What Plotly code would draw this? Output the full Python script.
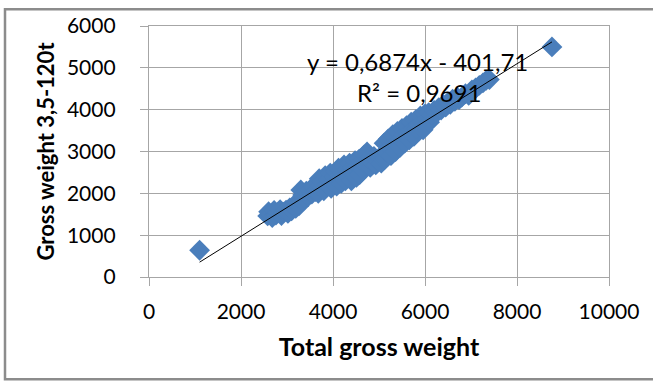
import plotly.graph_objects as go

# Total gross weight vs. gross weight of vehicles 3,5-120t
total_gross = [
    1100,
    2580, 2600, 2650, 2680, 2720, 2760, 2800, 2850, 2880, 2930, 2980,
    3020, 3060, 3100, 3150, 3190, 3230, 3260,
    3300, 3320, 3340, 3380, 3420, 3460, 3500, 3540, 3580, 3620,
    3680, 3700, 3720, 3760, 3800, 3830, 3860, 3900, 3940, 3960, 4000, 4030, 4060, 4080,
    4120, 4150, 4180, 4200, 4240, 4270, 4300, 4330, 4360, 4400, 4420, 4450, 4480, 4510, 4540, 4570, 4580,
    4620, 4650, 4680, 4720, 4740, 4780, 4810, 4850, 4890, 4930,
    4970, 5010, 5050, 5080,
    5110, 5130, 5170, 5200, 5230, 5260, 5300, 5330, 5360, 5400, 5430, 5460, 5500, 5530, 5560,
    5600, 5630, 5660, 5700, 5730, 5760, 5800, 5820,
    5860, 5900, 5940, 5960, 6000, 6040, 6080, 6100,
    6150, 6200, 6250, 6300, 6350, 6400, 6450, 6500, 6550, 6600, 6650, 6700, 6740,
    6800, 6880, 6950, 7020, 7100, 7180, 7260, 7330, 7400,
    8760,
]
gross_3_5_120t = [
    640,
    1460, 1560, 1500, 1420, 1590, 1480, 1540, 1610, 1470, 1550, 1600,
    1520, 1650, 1580, 1720, 1640, 1780, 1700,
    2080, 1830, 1960, 1880, 2050, 1920, 2090, 1980, 2150, 2040,
    2000, 2350, 2180, 2280, 2060, 2420, 2200, 2330, 2480, 2120, 2260, 2400, 2520, 2170,
    2600, 2350, 2240, 2480, 2680, 2300, 2560, 2420, 2720, 2300, 2620, 2480, 2780, 2380, 2660, 2820, 2450,
    2600, 2800, 2920, 2680, 2990, 2850, 2620, 2750, 2880, 2680,
    2780, 2860, 2720, 2820,
    3200, 2820, 2980, 3300, 3100, 2900, 3400, 3150, 3000, 3480, 3260, 3100, 3550, 3380, 3200,
    3620, 3450, 3280, 3700, 3520, 3360, 3760, 3550,
    3650, 3850, 3720, 3520, 3900, 3780, 3930, 3700,
    3880, 3980, 3920, 4050, 3990, 4120, 4060, 4180, 4130, 4250, 4200, 4300, 4240,
    4300, 4380, 4340, 4470, 4520, 4580, 4640, 4700, 4720,
    5500,
]

# Linear trendline as stated in its label
slope = 0.6874
intercept = -401.71
eq_text = "y = 0,6874x - 401,71"
r2_text = "R² = 0,9691"

x_ticks = [0, 2000, 4000, 6000, 8000, 10000]
y_ticks = [0, 1000, 2000, 3000, 4000, 5000, 6000]

W, H = 653, 383
L, R, T, B = 149, 44, 22, 106
PW, PH = W - L - R, H - T - B

FONT = "Lato"
GRID = "#a6a6a6"
BLUE = "#4a7ebb"

x_line = [min(total_gross), max(total_gross)]
y_line = [slope * v + intercept for v in x_line]

fig = go.Figure()
fig.add_trace(go.Scatter(
    x=total_gross, y=gross_3_5_120t, mode="markers",
    marker=dict(symbol="diamond", size=16, color=BLUE, line=dict(width=0)),
    showlegend=False, hoverinfo="x+y",
))
fig.add_trace(go.Scatter(
    x=x_line, y=y_line, mode="lines",
    line=dict(color="#000000", width=1),
    showlegend=False, hoverinfo="skip",
))

axis_common = dict(
    showgrid=True, gridcolor=GRID, gridwidth=1.3,
    showline=True, linecolor=GRID, linewidth=1.3, mirror=True,
    ticks="outside", ticklen=8, tickcolor=GRID, tickwidth=1.3,
    zeroline=False,
    tickfont=dict(family=FONT, size=21, color="#000000"),
)

fig.update_layout(
    width=W, height=H,
    margin=dict(l=L, r=R, t=T, b=B),
    paper_bgcolor="white", plot_bgcolor="white",
    xaxis=dict(
        range=[0, 10000], tickvals=x_ticks,
        ticktext=[str(v) for v in x_ticks],
        title=dict(text="<b>Total gross weight</b>", standoff=16,
                   font=dict(family=FONT, size=25, color="#000000")),
        ticklabelstandoff=8,
        **axis_common,
    ),
    yaxis=dict(
        range=[0, 6000], tickvals=y_ticks,
        ticktext=[str(v) for v in y_ticks],
        title=dict(text="<b>Gross weight 3,5-120t</b>", standoff=6,
                   font=dict(family=FONT, size=22, color="#000000")),
        ticklabelstandoff=20,
        **axis_common,
    ),
    annotations=[
        dict(x=5826, y=5153, xref="x", yref="y", text=eq_text, showarrow=False,
             font=dict(family=FONT, size=24, color="#000000")),
        dict(x=5870, y=4400, xref="x", yref="y", text=r2_text, showarrow=False,
             font=dict(family=FONT, size=24, color="#000000")),
    ],
    shapes=[
        # outer chart frame
        dict(type="rect", xref="paper", yref="paper",
             x0=(5 - L) / PW, x1=(W + 20 - L) / PW,
             y0=(H - B - 381) / PH, y1=(H - B - 5) / PH,
             line=dict(color="#8c8c8c", width=2.5), fillcolor="rgba(0,0,0,0)",
             layer="below"),
    ],
)

fig.write_html("out.html")
